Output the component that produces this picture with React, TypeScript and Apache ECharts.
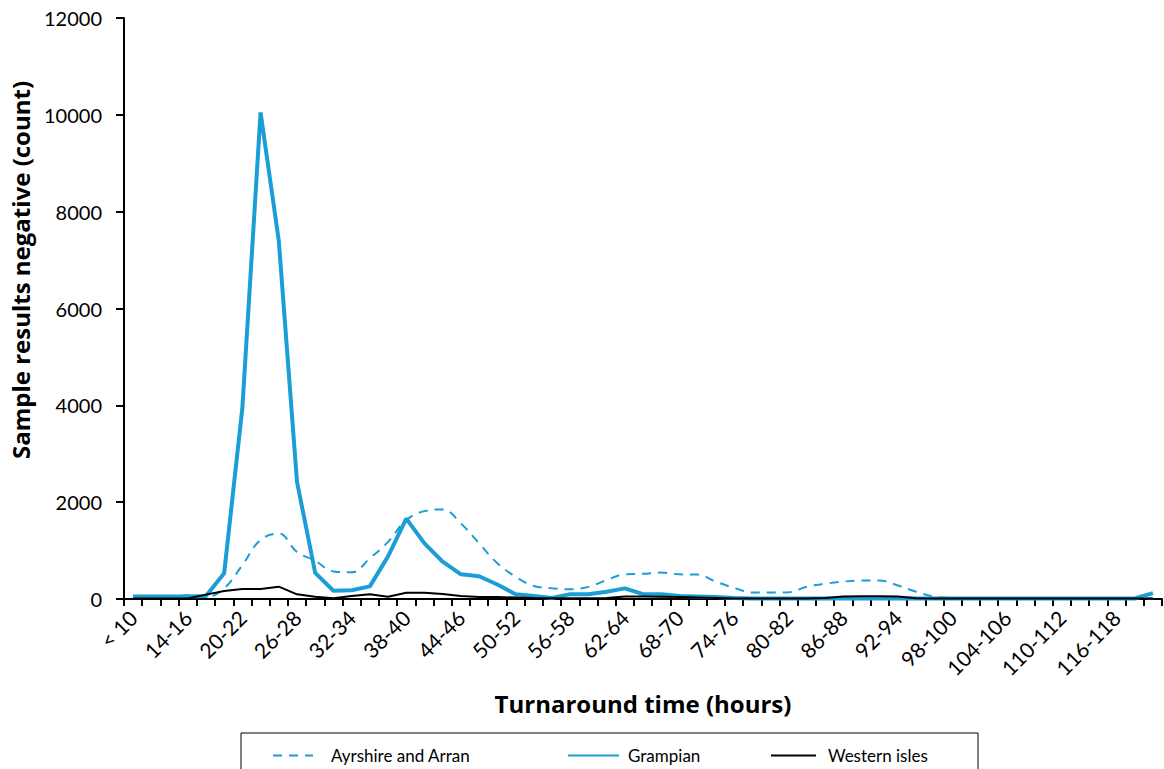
import React, { useEffect, useRef } from "react";
import * as echarts from "echarts";

const categories = [
  "< 10", "10-12", "12-14", "14-16", "16-18", "18-20", "20-22", "22-24", "24-26", "26-28",
  "28-30", "30-32", "32-34", "34-36", "36-38", "38-40", "40-42", "42-44", "44-46", "46-48",
  "48-50", "50-52", "52-54", "54-56", "56-58", "58-60", "60-62", "62-64", "64-66", "66-68",
  "68-70", "70-72", "72-74", "74-76", "76-78", "78-80", "80-82", "82-84", "84-86", "86-88",
  "88-90", "90-92", "92-94", "94-96", "96-98", "98-100", "100-102", "102-104", "104-106", "106-108",
  "108-110", "110-112", "112-114", "114-116", "116-118", "118-120", "> 120",
];

const ayrshire = [
  40, 40, 40, 80, 40, 220, 700, 1220, 1350, 970,
  790, 570, 550, 840, 1180, 1630, 1815, 1850, 1560, 1150,
  740, 460, 270, 220, 200, 250, 390, 510, 520, 545,
  510, 505, 357, 230, 135, 135, 140, 254, 315, 360,
  380, 380, 280, 150, 50, 20, 10, 10, 10, 10,
  10, 10, 10, 10, 10, 10, 10,
];

const grampian = [
  50, 50, 50, 50, 60, 530, 3950, 10050, 7400, 2420,
  540, 170, 180, 260, 880, 1660, 1150, 770, 510, 470,
  300, 100, 60, 20, 100, 100, 150, 220, 100, 100,
  60, 50, 40, 20, 10, 10, 10, 10, 10, 10,
  10, 10, 10, 10, 10, 10, 10, 10, 10, 10,
  10, 10, 10, 10, 10, 10, 120,
];

const westernIsles = [
  10, 10, 10, 10, 90, 165, 206, 206, 254, 96,
  48, 14, 62, 96, 48, 130, 130, 103, 62, 40,
  40, 30, 20, 15, 15, 15, 20, 50, 50, 45,
  40, 30, 20, 10, 10, 10, 10, 10, 20, 50,
  55, 55, 50, 15, 10, 10, 10, 10, 10, 10,
  10, 10, 10, 10, 10, 10, 10,
];

const seriesNames = ["Ayrshire and Arran", "Grampian", "Western isles"];
const yTicks = { min: 0, max: 12000, interval: 2000 };
const xTitle = "Turnaround time (hours)";
const yTitle = "Sample results negative (count)";

const FONT = "Lato, 'Open Sans', sans-serif";
const TITLE_FONT = "'Open Sans', Lato, sans-serif";
const BLUE = "#1b9ed6";

export default function App() {
  const ref = useRef<HTMLDivElement>(null);
  useEffect(() => {
    if (!ref.current) return;
    const chart = echarts.init(ref.current, null, { renderer: "svg" });
    const legendBase = {
      orient: "horizontal",
      top: 747,
      padding: 0,
      itemHeight: 14,
      itemStyle: { opacity: 0 },
      textStyle: { fontFamily: FONT, fontSize: 17, color: "#000" },
    };
    chart.setOption({
      animation: false,
      backgroundColor: "#fff",
      textStyle: { fontFamily: FONT },
      grid: {
        left: 124,
        top: 18,
        right: 2,
        bottom: 170,
        containLabel: false,
        outerBoundsMode: "none",
      },
      xAxis: {
        type: "category",
        data: categories,
        boundaryGap: true,
        name: xTitle,
        nameLocation: "middle",
        nameGap: 92,
        nameTextStyle: { fontFamily: TITLE_FONT, fontSize: 24, fontWeight: "bold", color: "#000" },
        axisLine: { lineStyle: { color: "#000", width: 2 } },
        axisTick: { show: true, interval: 0, length: 7, lineStyle: { color: "#000", width: 2 } },
        axisLabel: {
          interval: 2,
          rotate: 45,
          margin: 15,
          fontFamily: FONT,
          fontSize: 21,
          color: "#000",
        },
      },
      yAxis: {
        type: "value",
        min: yTicks.min,
        max: yTicks.max,
        interval: yTicks.interval,
        splitLine: { show: false },
        axisLine: { show: true, lineStyle: { color: "#000", width: 2 } },
        axisTick: { show: true, length: 8, lineStyle: { color: "#000", width: 2 } },
        axisLabel: {
          margin: 22,
          fontFamily: FONT,
          fontSize: 20,
          color: "#000",
          formatter: (v: number) => String(v),
        },
      },
      legend: [
        { ...legendBase, left: 272, itemWidth: 40, data: [seriesNames[0]], textStyle: { ...legendBase.textStyle, padding: [0, 0, 0, 13] } },
        { ...legendBase, left: 567, itemWidth: 51, data: [seriesNames[1]], textStyle: { ...legendBase.textStyle, padding: [0, 0, 0, 4] } },
        { ...legendBase, left: 770, itemWidth: 45, data: [seriesNames[2]], textStyle: { ...legendBase.textStyle, padding: [0, 0, 0, 7] } },
      ],
      graphic: [
        {
          type: "rect",
          shape: { x: 241, y: 733, width: 737, height: 80 },
          style: { fill: "none", stroke: "#000", lineWidth: 1 },
          silent: true,
        },
        {
          type: "text",
          x: 20,
          y: 270,
          rotation: Math.PI / 2,
          style: {
            text: yTitle,
            fontFamily: TITLE_FONT,
            fontSize: 24,
            fontWeight: "bold",
            fill: "#000",
            align: "center",
            verticalAlign: "middle",
          },
          silent: true,
        },
      ],
      series: [
        {
          name: seriesNames[0],
          type: "line",
          data: ayrshire,
          symbol: "none",
          smooth: 0.4,
          lineStyle: { color: BLUE, width: 2, type: [9, 7] },
          itemStyle: { color: BLUE },
        },
        {
          name: seriesNames[1],
          type: "line",
          data: grampian,
          symbol: "none",
          lineStyle: { color: BLUE, width: 4 },
          itemStyle: { color: BLUE },
        },
        {
          name: seriesNames[2],
          type: "line",
          data: westernIsles,
          symbol: "none",
          lineStyle: { color: "#000", width: 2 },
          itemStyle: { color: "#000" },
        },
      ],
    });
    return () => chart.dispose();
  }, []);
  return (
    <div
      ref={ref}
      style={{ position: "absolute", left: 0, top: 0, width: 1164, height: 769 }}
    />
  );
}
